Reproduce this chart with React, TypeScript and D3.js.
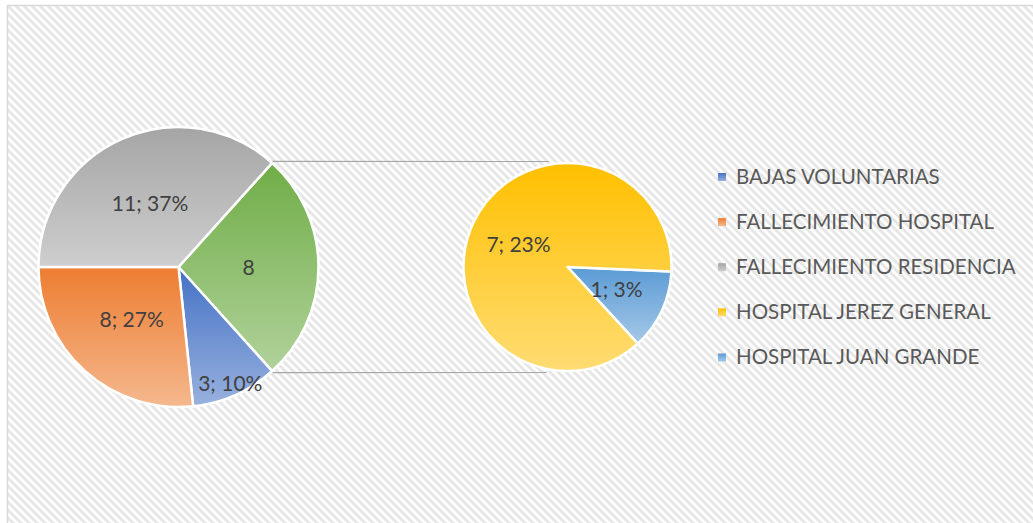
import React from 'react';
import * as d3 from 'd3';

// ---- data ----
const mainCategories = ['BAJAS VOLUNTARIAS', 'FALLECIMIENTO HOSPITAL', 'FALLECIMIENTO RESIDENCIA'];
const mainValues = [3, 8, 11];
const secondCategories = ['HOSPITAL JEREZ GENERAL', 'HOSPITAL JUAN GRANDE'];
const secondValues = [7, 1];
const otherLabel = 'OTRO';
const categoryColors = ['#4472C4', '#ED7D31', '#A5A5A5', '#FFC000', '#5B9BD5'];
const otherColor = '#70AD47';

type Slice = { name: string; value: number; color: string; labelFactor: number; showPct: boolean };

const W = 1033;
const H = 523;

export default function App() {
  const total = d3.sum(mainValues) + d3.sum(secondValues);
  const otherValue = d3.sum(secondValues);
  const fmt = (s: Slice) => (s.showPct ? `${s.value}; ${Math.round((s.value / total) * 100)}%` : `${s.value}`);

  // main pie: "other" slice first, centred on 3 o'clock
  const mainSlices: Slice[] = [
    { name: otherLabel, value: otherValue, color: otherColor, labelFactor: 0.5, showPct: false },
    ...mainCategories.map((c, i) => ({
      name: c,
      value: mainValues[i],
      color: categoryColors[i],
      labelFactor: mainValues[i] / total < 0.12 ? 0.91 : 0.5,
      showPct: true,
    })),
  ];
  const secondSlices: Slice[] = secondCategories
    .map((c, i) => ({
      name: c,
      value: secondValues[i],
      color: categoryColors[3 + i],
      labelFactor: 0.52,
      showPct: true,
    }))
    .reverse();

  const c1 = { x: 178.5, y: 267, r: 140 };
  const c2 = { x: 567.5, y: 267, r: 104 };

  const otherSpan = (otherValue / total) * 2 * Math.PI;
  const start1 = Math.PI / 2 - otherSpan / 2;
  const pie1 = d3.pie<Slice>().sort(null).value((d) => d.value).startAngle(start1).endAngle(start1 + 2 * Math.PI);
  const start2 = Math.PI / 2 + (2.5 * Math.PI) / 180;
  const pie2 = d3.pie<Slice>().sort(null).value((d) => d.value).startAngle(start2).endAngle(start2 + 2 * Math.PI);

  const arcs1 = pie1(mainSlices);
  const arcs2 = pie2(secondSlices);
  const arcGen1 = d3.arc<d3.PieArcDatum<Slice>>().innerRadius(0).outerRadius(c1.r);
  const arcGen2 = d3.arc<d3.PieArcDatum<Slice>>().innerRadius(0).outerRadius(c2.r);

  const labelPos = (a: d3.PieArcDatum<Slice>, r: number) => {
    const m = (a.startAngle + a.endAngle) / 2;
    const rr = r * a.data.labelFactor;
    return [Math.sin(m) * rr, -Math.cos(m) * rr];
  };

  const gid = (name: string) => 'g-' + name.replace(/\s+/g, '-');
  const allColors: { name: string; color: string }[] = [
    ...mainCategories.map((c, i) => ({ name: c, color: categoryColors[i] })),
    ...secondCategories.map((c, i) => ({ name: c, color: categoryColors[3 + i] })),
    { name: otherLabel, color: otherColor },
  ];

  // connector lines
  const otherArc = arcs1[0];
  const a0 = otherArc.startAngle;
  const a1 = otherArc.endAngle;
  const lineTop = {
    x1: c1.x + Math.sin(a0) * c1.r,
    y1: c1.y - Math.cos(a0) * c1.r - 1.5,
    x2: c2.x - c2.r * 0.18,
    y2: c2.y - c2.r - 1.5,
  };
  const lineBot = {
    x1: c1.x + Math.sin(a1) * c1.r,
    y1: c1.y - Math.cos(a1) * c1.r + 1.5,
    x2: c2.x - c2.r * 0.2,
    y2: c2.y + c2.r + 1.5,
  };

  const legendItems = [...mainCategories, ...secondCategories].map((c, i) => ({ name: c, color: categoryColors[i] }));
  const legendY = d3.scaleLinear().domain([0, 4]).range([183.5, 364]);

  const font = 'Lato, "Open Sans", sans-serif';

  return (
    <svg width={W} height={H} style={{ position: 'absolute', left: 0, top: 0, background: '#fff' }}>
      <defs>
        <pattern id="diag" width={8} height={8} patternUnits="userSpaceOnUse">
          <rect width={8} height={8} fill="#ffffff" />
          <polygon points="0,0 4,0 8,4 8,8" fill="#e6e6e6" />
          <polygon points="0,4 4,8 0,8" fill="#e6e6e6" />
        </pattern>
        {allColors.map((c) => (
          <linearGradient key={c.name} id={gid(c.name)} x1="0" y1="0" x2="0" y2="1">
            <stop offset="0" stopColor={c.color} />
            <stop offset="1" stopColor={d3.interpolateRgb(c.color, '#ffffff')(0.45)} />
          </linearGradient>
        ))}
      </defs>
      <rect x={7.5} y={5.5} width={W + 20} height={H + 20} fill="url(#diag)" stroke="#d9d9d9" strokeWidth={1.5} />

      <line {...lineTop} stroke="#a6a6a6" strokeWidth={1.2} />
      <line {...lineBot} stroke="#a6a6a6" strokeWidth={1.2} />

      <g transform={`translate(${c1.x},${c1.y})`}>
        {arcs1.map((a) => (
          <path key={a.data.name} d={arcGen1(a) || ''} fill={`url(#${gid(a.data.name)})`} stroke="#fff" strokeWidth={2.5} strokeLinejoin="round" />
        ))}
        {arcs1.map((a) => {
          const [x, y] = labelPos(a, c1.r);
          return (
            <text key={a.data.name} x={x} y={y} dy="0.36em" textAnchor="middle" fontFamily={font} fontSize={21} fill="#404040">
              {fmt(a.data)}
            </text>
          );
        })}
      </g>

      <g transform={`translate(${c2.x},${c2.y})`}>
        {arcs2.map((a) => (
          <path key={a.data.name} d={arcGen2(a) || ''} fill={`url(#${gid(a.data.name)})`} stroke="#fff" strokeWidth={2.5} strokeLinejoin="round" />
        ))}
        {arcs2.map((a) => {
          const [x, y] = labelPos(a, c2.r);
          return (
            <text key={a.data.name} x={x} y={y} dy="0.36em" textAnchor="middle" fontFamily={font} fontSize={21} fill="#404040">
              {fmt(a.data)}
            </text>
          );
        })}
      </g>

      <g>
        {legendItems.map((it, i) => (
          <g key={it.name} transform={`translate(718,${legendY(i)})`}>
            <rect x={0} y={-10.5} width={8} height={8} fill={`url(#${gid(it.name)})`} />
            <text x={18} y={0} fontFamily={font} fontSize={20.5} fill="#595959">
              {it.name}
            </text>
          </g>
        ))}
      </g>
    </svg>
  );
}
